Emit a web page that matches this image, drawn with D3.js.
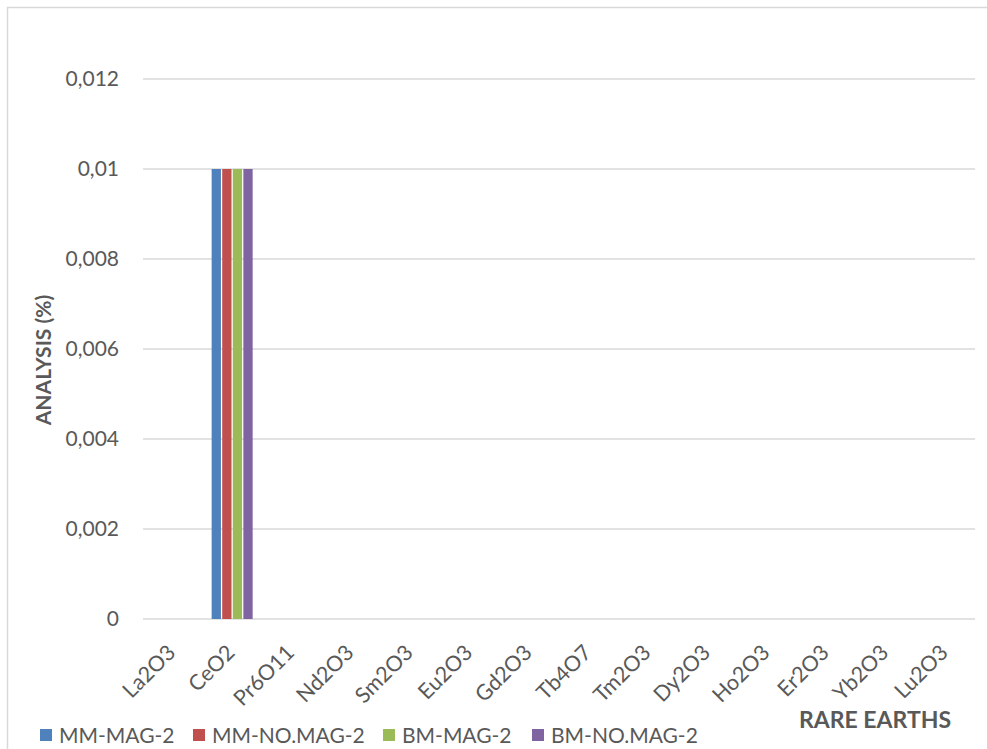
<!DOCTYPE html>
<html><head><meta charset="utf-8">
<script src="https://cdn.jsdelivr.net/npm/d3@7"></script>
<style>
html,body{margin:0;padding:0;background:#fff;}
svg{display:block;font-family:Lato,"Open Sans",sans-serif;}
</style></head>
<body>
<svg id="chart" width="987" height="749"></svg>
<script>
const categories = ["La2O3","CeO2","Pr6O11","Nd2O3","Sm2O3","Eu2O3","Gd2O3","Tb4O7","Tm2O3","Dy2O3","Ho2O3","Er2O3","Yb2O3","Lu2O3"];
const seriesNames = ["MM-MAG-2","MM-NO.MAG-2","BM-MAG-2","BM-NO.MAG-2"];
const mmMag2   = [0,0.01,0,0,0,0,0,0,0,0,0,0,0,0];
const mmNoMag2 = [0,0.01,0,0,0,0,0,0,0,0,0,0,0,0];
const bmMag2   = [0,0.01,0,0,0,0,0,0,0,0,0,0,0,0];
const bmNoMag2 = [0,0.01,0,0,0,0,0,0,0,0,0,0,0,0];
const yTicks = [0,0.002,0.004,0.006,0.008,0.01,0.012];
const yTickLabels = ["0","0,002","0,004","0,006","0,008","0,01","0,012"];
const colors = ["#4f81bd","#c0504d","#9bbb59","#8064a2"];

(function(){
const seriesValues = [mmMag2, mmNoMag2, bmMag2, bmNoMag2];
const svg = d3.select("#chart");
const W = 987, H = 749;
const pL = 143, pR = 975, pT = 79, pB = 619;

// chart border
svg.append("rect").attr("x",7.5).attr("y",7.5).attr("width",W+5).attr("height",H+5)
  .attr("fill","none").attr("stroke","#d9d9d9").attr("stroke-width",1.5);

const x = d3.scaleBand().domain(categories).range([pL,pR]).paddingInner(0.31).paddingOuter(0.155);
const x1 = d3.scaleBand().domain(seriesNames).range([0,x.bandwidth()]).paddingInner(0.12);
const y = d3.scaleLinear().domain([0,0.012]).range([pB,pT]);

// gridlines
svg.append("g").selectAll("line").data(yTicks).join("line")
  .attr("x1",pL).attr("x2",pR)
  .attr("y1",d=>y(d)).attr("y2",d=>y(d))
  .attr("stroke","#d9d9d9").attr("stroke-width",1.5);

// y axis labels
const yAxis = d3.axisLeft(y).tickValues(yTicks).tickFormat((d,i)=>yTickLabels[i]).tickSize(0).tickPadding(24);
const gy = svg.append("g").attr("transform",`translate(${pL},0)`).call(yAxis);
gy.select(".domain").remove();
gy.selectAll("text").attr("fill","#595959").style("font-size","21px").attr("font-family","Lato");

// bars
const groups = svg.append("g").selectAll("g").data(categories).join("g")
  .attr("transform",d=>`translate(${x(d)},0)`);
groups.selectAll("rect").data((c,ci)=>seriesNames.map((s,si)=>({s,si,v:seriesValues[si][ci]})))
  .join("rect")
  .attr("x",d=>x1(d.s)).attr("width",x1.bandwidth())
  .attr("y",d=>y(d.v)).attr("height",d=>y(0)-y(d.v))
  .attr("fill",d=>colors[d.si]);

// x axis labels
const xAxis = d3.axisBottom(x).tickSize(0).tickPadding(0);
const gx = svg.append("g").attr("transform",`translate(0,${pB})`).call(xAxis);
gx.select(".domain").remove();
gx.selectAll("text")
  .attr("fill","#595959").style("font-size","21.5px").attr("font-family","Lato")
  .attr("text-anchor","end").attr("dy","0")
  .attr("transform","translate(4,35) rotate(-45)")
  .attr("x",0).attr("y",0);

// axis titles
svg.append("text").attr("x",875).attr("y",728).attr("text-anchor","middle")
  .attr("fill","#595959").style("font-size","23px").style("font-weight","bold").text("RARE EARTHS");
svg.append("text").attr("transform","translate(51,360) rotate(-90)").attr("text-anchor","middle")
  .attr("fill","#595959").style("font-size","21px").style("font-weight","bold").text("ANALYSIS (%)");

// legend
const legendX = [40,193,383,532];
const lg = svg.append("g").selectAll("g").data(seriesNames).join("g")
  .attr("transform",(d,i)=>`translate(${legendX[i]},729)`);
lg.append("rect").attr("width",12).attr("height",12).attr("fill",(d,i)=>colors[i]);
lg.append("text").attr("x",19).attr("y",6).attr("dy","0.36em")
  .attr("fill","#595959").style("font-size","21px").text(d=>d);
})();
</script>
</body></html>
